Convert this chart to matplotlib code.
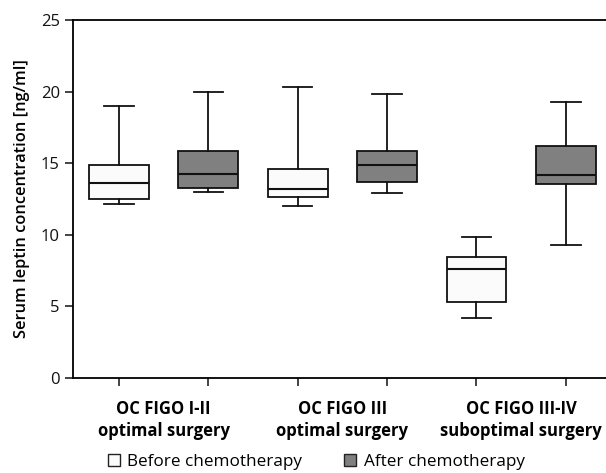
import matplotlib
matplotlib.use("Agg")
import matplotlib.pyplot as plt
from matplotlib.patches import Patch

plt.rcParams['font.family'] = ['Open Sans', 'DejaVu Sans']

groups = ["OC FIGO I-II\noptimal surgery", "OC FIGO III\noptimal surgery", "OC FIGO III-IV\nsuboptimal surgery"]
series = ["Before chemotherapy", "After chemotherapy"]
# per box: (whisker low, Q1, median, Q3, whisker high); order: g1 before, g1 after, g2 before, ...
whislo = [12.17, 13.0, 12.0, 12.9, 4.19, 9.29]
q1 = [12.5, 13.3, 12.66, 13.66, 5.3, 13.53]
med = [13.6, 14.27, 13.2, 14.9, 7.63, 14.18]
q3 = [14.9, 15.87, 14.6, 15.87, 8.47, 16.22]
whishi = [19.0, 20.0, 20.3, 19.85, 9.82, 19.27]
yticks = [0, 5, 10, 15, 20, 25]

colors = ['#fbfbfb', '#808080']

fig = plt.figure(figsize=(6.06, 4.73), dpi=100)
ax = fig.add_axes([73/606, 1-378/473, 1-73/606, (378-20)/473])

stats = []
for i in range(len(med)):
    stats.append(dict(whislo=whislo[i], q1=q1[i], med=med[i], q3=q3[i], whishi=whishi[i], fliers=[]))
positions = list(range(1, len(med)+1))
bp = ax.bxp(stats, positions=positions, widths=0.67, patch_artist=True, showfliers=False,
            capwidths=0.33,
            boxprops=dict(linewidth=1.3, edgecolor='#111111'),
            medianprops=dict(color='#111111', linewidth=1.5),
            whiskerprops=dict(color='#111111', linewidth=1.3),
            capprops=dict(color='#111111', linewidth=1.3))
for i, b in enumerate(bp['boxes']):
    b.set_facecolor(colors[i % 2])

ax.set_xlim(0.485, 6.45)
ax.set_ylim(0, 25)
ax.set_yticks(yticks)
ax.set_xticks(positions)
ax.set_xticklabels([''] * len(positions))
for j, g in enumerate(groups):
    ax.text(2*j + 1.5, -1.55, g, ha='center', va='top', fontsize=12, fontweight='bold',
            transform=ax.transData, linespacing=1.25)
ax.tick_params(axis='both', length=6, width=1.1, labelsize=12, direction='out', colors='#111111')
ax.spines['right'].set_visible(False)
for s in ['top', 'left', 'bottom']:
    ax.spines[s].set_linewidth(1.3)
ax.set_ylabel("Serum leptin concentration [ng/ml]", fontsize=11.8, fontweight='semibold', labelpad=8)

handles = [Patch(facecolor=colors[0], edgecolor='#222222', linewidth=1.0, label=series[0]),
           Patch(facecolor=colors[1], edgecolor='#222222', linewidth=1.0, label=series[1])]
fig.legend(handles=handles, loc='center', bbox_to_anchor=(0.5 + 0.022, 1 - 462/473), ncol=2,
           frameon=False, fontsize=12.3, handlelength=0.7, handleheight=0.7,
           handletextpad=0.45, columnspacing=2.45, borderpad=0)

fig.savefig("out.png", dpi=100)
